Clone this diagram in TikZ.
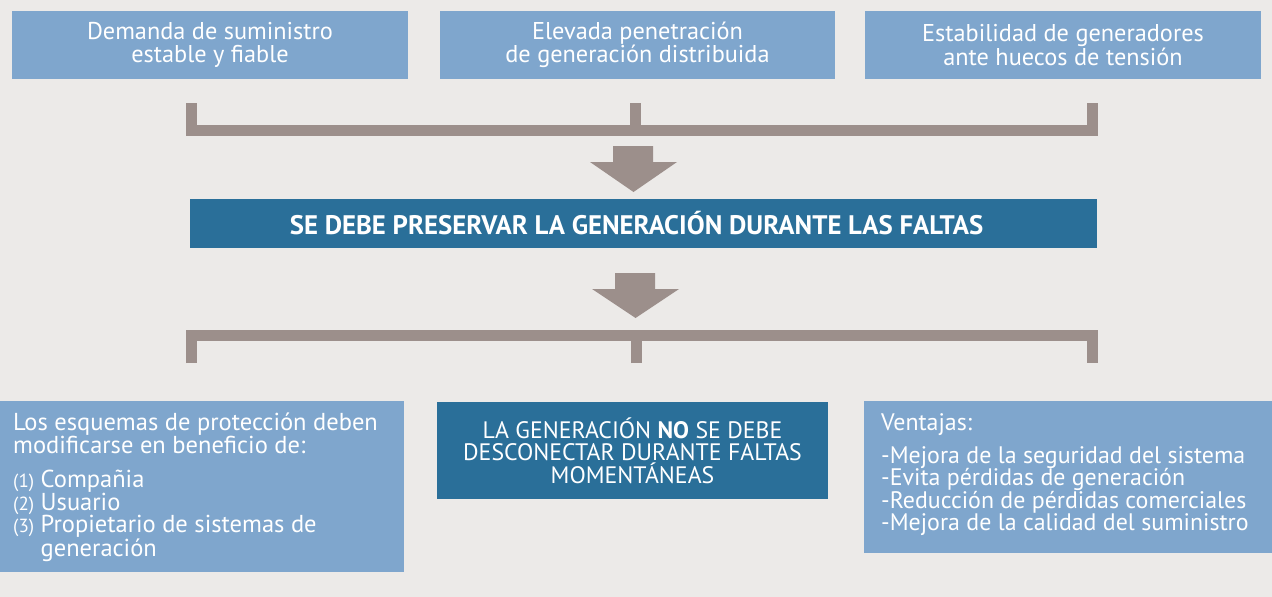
\documentclass[tikz,border=0pt]{standalone}
\usepackage{fontspec}
\setmainfont{PT Sans}
\definecolor{bg}{HTML}{ECEAE8}
\definecolor{lblue}{HTML}{7FA6CD}
\definecolor{dblue}{HTML}{2A6F99}
\definecolor{brk}{HTML}{9C8F8B}
\tikzset{
  lbox/.style={fill=lblue,text=white,inner sep=0pt,font=\fontsize{24.3}{22.5}\selectfont},
  dbox/.style={fill=dblue,text=white,inner sep=0pt,font=\fontsize{23.8}{22.5}\selectfont},
  txt/.style={text=white,inner sep=0pt,align=left},
  bracket/.style={draw=brk,line width=11pt,line join=miter},
  blockarrow/.style={fill=brk}
}
\begin{document}
\begin{tikzpicture}[x=1pt,y=-1pt]
\useasboundingbox[fill=bg] (0,0) rectangle (1272,597);
% top boxes
\node[lbox,minimum width=396pt,minimum height=68pt,align=center] (t1) at (210,45) {Demanda de suministro\\estable y fiable};
\node[lbox,minimum width=395pt,minimum height=68pt,align=center] (t2) at (637.5,45) {Elevada penetración\\de generación distribuida};
\node[lbox,minimum width=396pt,minimum height=68pt,align=center] (t3) at (1063,45) {Estabilidad de generadores\\ante huecos de tensión};
% top bracket
\coordinate (b1l) at (191.5,103);
\coordinate (b1m) at (635,103);
\coordinate (b1r) at (1092.5,103);
\draw[bracket] (b1l) -- (b1l |- 0,130.5) -- (b1r |- 0,130.5) -- (b1r);
\draw[bracket] (b1m) -- (b1m |- 0,127);
% arrow 1
\fill[blockarrow] (613,146) -- (653,146) -- (653,162) -- (677,162) -- (633.5,192) -- (590,162) -- (613,162) -- cycle;
% main box
\node[dbox,minimum width=907pt,minimum height=49pt,font=\fontsize{26.8}{28}\selectfont\bfseries] (main) at (643.5,223.5) {SE DEBE PRESERVAR LA GENERACIÓN DURANTE LAS FALTAS\hspace*{14pt}};
% arrow 2
\fill[blockarrow] (615,273) -- (655,273) -- (655,289) -- (679,289) -- (635.5,318) -- (592,289) -- (615,289) -- cycle;
% bottom bracket
\coordinate (b2l) at (191.5,363);
\coordinate (b2m) at (636.5,363);
\coordinate (b2r) at (1092.5,363);
\draw[bracket] (b2l) -- (b2l |- 0,335.5) -- (b2r |- 0,335.5) -- (b2r);
\draw[bracket] (b2m) -- (b2m |- 0,339);
% bottom boxes
\fill[lblue] (0,401) rectangle (404,572);
\node[txt,anchor=north west,font=\fontsize{24.5}{22.5}\selectfont] (l) at (13,413) {Los esquemas de protección deben\\modificarse en beneficio de:\\[12pt]
{\fontsize{19}{22.5}\selectfont(1)} Compañia\\
{\fontsize{19}{22.5}\selectfont(2)} Usuario\\
{\fontsize{19}{22.5}\selectfont(3)} Propietario de sistemas de\\
\hphantom{{\fontsize{19}{22.5}\selectfont(3)} }generación};
\node[dbox,minimum width=391pt,minimum height=97pt,align=center] (m) at (632.5,450.5) {LA GENERACIÓN \textbf{NO} SE DEBE\\DESCONECTAR DURANTE FALTAS\\MOMENTÁNEAS};
\fill[lblue] (864,401) rectangle (1272,553);
\node[txt,anchor=north west,font=\fontsize{23.9}{22.5}\selectfont] (r) at (881,413) {Ventajas:\\[10.5pt]
-Mejora de la seguridad del sistema\\
-Evita pérdidas de generación\\
-Reducción de pérdidas comerciales\\
-Mejora de la calidad del suministro};
\end{tikzpicture}
\end{document}
